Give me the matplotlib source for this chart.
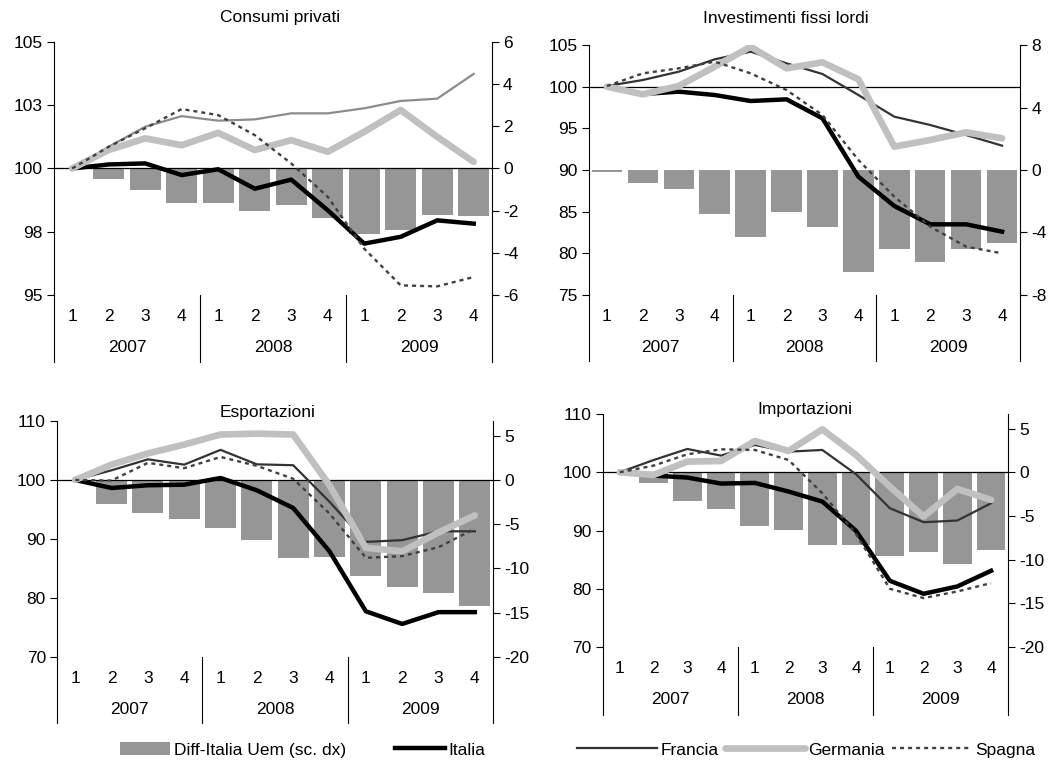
import matplotlib
matplotlib.use('Agg')
import matplotlib.pyplot as plt
from matplotlib.patches import Patch
from matplotlib.lines import Line2D

plt.rcParams['font.family'] = ['Liberation Sans', 'DejaVu Sans']
plt.rcParams['font.size'] = 12.5
plt.rcParams['axes.unicode_minus'] = False

quarters = ['1', '2', '3', '4'] * 3
years = ['2007', '2008', '2009']

# Consumi privati
cons_italia = [100, 100.16, 100.2, 99.74, 99.97, 99.2, 99.56, 98.35, 97.03, 97.3, 97.95, 97.82]
cons_francia = [100, 100.86, 101.65, 102.07, 101.89, 101.94, 102.18, 102.18, 102.38, 102.67, 102.76, 103.74]
cons_germania = [100, 100.73, 101.19, 100.92, 101.41, 100.73, 101.12, 100.66, 101.45, 102.31, 101.25, 100.26]
cons_spagna = [100, 100.86, 101.59, 102.35, 102.11, 101.32, 100.2, 98.88, 96.83, 95.38, 95.34, 95.71]
cons_diff = [-0.03, -0.51, -1.03, -1.63, -1.63, -2.01, -1.73, -2.35, -3.12, -2.93, -2.22, -2.27]

# Investimenti fissi lordi
inv_italia = [100, 99.12, 99.4, 99.0, 98.28, 98.48, 96.2, 89.2, 85.68, 83.48, 83.48, 82.6]
inv_francia = [100.08, 100.8, 101.8, 103.28, 104.2, 102.8, 101.52, 99.0, 96.4, 95.4, 94.2, 92.92]
inv_germania = [100, 99.08, 100.08, 102.4, 104.8, 102.2, 102.92, 100.88, 92.8, 93.6, 94.52, 93.8]
inv_spagna = [100.08, 101.6, 102.2, 103.0, 101.6, 99.6, 96.6, 91.2, 86.8, 83.2, 80.8, 80.0]
inv_diff = [-0.1, -0.81, -1.19, -2.79, -4.29, -2.67, -3.65, -6.5, -5.03, -5.86, -5.03, -4.65]

# Esportazioni
exp_italia = [100, 98.64, 99.1, 99.2, 100.34, 98.25, 95.25, 87.9, 77.74, 75.6, 77.6, 77.6]
exp_francia = [100, 101.64, 103.5, 102.6, 105.1, 102.65, 102.5, 96.3, 89.5, 89.8, 91.3, 91.3]
exp_germania = [100, 102.6, 104.5, 106.0, 107.7, 107.85, 107.7, 99.1, 88.5, 87.9, 91.1, 94.0]
exp_spagna = [100, 99.9, 102.9, 102.0, 103.9, 102.4, 100.2, 94.3, 86.8, 87.1, 88.6, 91.75]
exp_diff = [-0.05, -2.71, -3.73, -4.41, -5.42, -6.82, -8.81, -8.74, -10.88, -12.13, -12.77, -14.24]

# Importazioni
imp_italia = [100, 99.43, 99.09, 98.06, 98.17, 96.69, 94.97, 89.94, 81.37, 79.14, 80.4, 83.09]
imp_francia = [100, 102.1, 104.0, 102.86, 104.69, 103.54, 103.83, 99.66, 93.83, 91.43, 91.71, 94.69]
imp_germania = [100, 99.54, 101.83, 101.94, 105.37, 103.66, 107.37, 102.97, 97.54, 92.4, 97.14, 95.26]
imp_spagna = [100, 101.14, 103.09, 103.94, 103.83, 102.11, 96.4, 89.37, 80.0, 78.4, 79.54, 80.97]
imp_diff = [-0.05, -1.26, -3.28, -4.15, -6.1, -6.59, -8.38, -8.38, -9.64, -9.18, -10.48, -8.95]

x = list(range(1, 13))

fig = plt.figure(figsize=(10.58, 7.72), dpi=100)

panels = [
    dict(title='Consumi privati', rect=[0.0510, 0.6179, 0.414, 0.3277], tx=0.516, ty=1.095,
         data=(cons_italia, cons_francia, cons_germania, cons_spagna, cons_diff),
         ylim=(95, 105), yticks=[95, 97.5, 100, 102.5, 105], ylabels=['95', '98', '100', '103', '105'],
         y2lim=(-6, 6), y2ticks=[-6, -4, -2, 0, 2, 4, 6], fr_color='#8c8c8c', ext=0.265),
    dict(title='Investimenti fissi lordi', rect=[0.5567, 0.6179, 0.4074, 0.3238], tx=0.457, ty=1.108,
         data=(inv_italia, inv_francia, inv_germania, inv_spagna, inv_diff),
         ylim=(75, 105), yticks=[75, 80, 85, 90, 95, 100, 105], ylabels=None,
         y2lim=(-8, 8), y2ticks=[-8, -4, 0, 4, 8], fr_color='#333333', ext=0.265),
    dict(title='Esportazioni', rect=[0.0539, 0.1490, 0.4121, 0.3057], tx=0.484, ty=1.034,
         data=(exp_italia, exp_francia, exp_germania, exp_spagna, exp_diff),
         ylim=(70, 110), yticks=[70, 80, 90, 100, 110], ylabels=None,
         y2lim=(-20, 20 / 3), y2ticks=[-20, -15, -10, -5, 0, 5], fr_color='#333333', ext=0.28),
    dict(title='Importazioni', rect=[0.5699, 0.1619, 0.3828, 0.3018], tx=0.499, ty=1.021,
         data=(imp_italia, imp_francia, imp_germania, imp_spagna, imp_diff),
         ylim=(70, 110), yticks=[70, 80, 90, 100, 110], ylabels=None,
         y2lim=(-20, 20 / 3), y2ticks=[-20, -15, -10, -5, 0, 5], fr_color='#333333', ext=0.29),
]

for p in panels:
    ax = fig.add_axes(p['rect'])
    ax2 = ax.twinx()
    ita, fra, ger, spa, diff = p['data']

    # bars on the right scale, lines on the left one drawn on top
    ax2.bar(x, diff, width=0.85, color='#969696', zorder=1)
    ax.set_zorder(ax2.get_zorder() + 1)
    ax.patch.set_visible(False)

    ax.axhline(100, color='black', lw=0.9, zorder=1)
    ax.plot(x, ita, color='black', lw=3.2, solid_joinstyle='round', zorder=3)
    ax.plot(x, fra, color=p['fr_color'], lw=1.6, zorder=4)
    ax.plot(x, ger, color='#c0c0c0', lw=4.8, solid_capstyle='round', solid_joinstyle='round', zorder=5)
    ax.plot(x, spa, color='#404040', lw=1.7, linestyle=(0, (1.7, 1.7)), zorder=6)

    ax.set_xlim(0.5, 12.5)
    ax.set_ylim(*p['ylim'])
    ax2.set_ylim(*p['y2lim'])
    ax.set_yticks(p['yticks'])
    if p['ylabels']:
        ax.set_yticklabels(p['ylabels'])
    ax2.set_yticks(p['y2ticks'])

    ax.set_xticks(x)
    ax.set_xticklabels(quarters)
    ax.tick_params(axis='x', length=0, pad=10)
    ax.tick_params(axis='y', length=5, width=0.8, pad=3)
    ax2.tick_params(axis='y', length=5, width=0.8, pad=3)

    for a in (ax, ax2):
        a.spines['top'].set_visible(False)
        a.spines['bottom'].set_visible(False)
        a.spines['left'].set_linewidth(0.8)
        a.spines['right'].set_linewidth(0.8)
    ax.spines['right'].set_visible(False)
    ax2.spines['left'].set_visible(False)

    # multi-level category axis: separators and year labels
    trans = ax.get_xaxis_transform()
    for xs in [0.5, 4.5, 8.5, 12.5]:
        ax.plot([xs, xs], [0, -p['ext']], transform=trans, color='black', lw=0.8, clip_on=False)
    for i, yr in enumerate(years):
        ax.annotate(yr, xy=(2.5 + 4 * i, 0), xycoords=trans, xytext=(0, -38),
                    textcoords='offset points', ha='center', va='center')

    ax.text(p['tx'], p['ty'], p['title'], transform=ax.transAxes, ha='center', va='center')

bar_h = Patch(facecolor='#969696', edgecolor='none')
ita_h = Line2D([], [], color='black', lw=3.2)
fra_h = Line2D([], [], color='#333333', lw=1.6)
ger_h = Line2D([], [], color='#c0c0c0', lw=4.8, solid_capstyle='round')
spa_h = Line2D([], [], color='#404040', lw=1.7, linestyle=(0, (1.7, 1.7)))

fig.legend([bar_h, ita_h], ['Diff-Italia Uem (sc. dx)', 'Italia'], loc='center',
           bbox_to_anchor=(0.286, 0.0285), ncol=2, frameon=False, handlelength=2.9,
           handletextpad=0.2, columnspacing=2.8, borderaxespad=0)
fig.legend([fra_h, ger_h, spa_h], ['Francia', 'Germania', 'Spagna'], loc='center',
           bbox_to_anchor=(0.762, 0.0285), ncol=3, frameon=False, handlelength=4.6,
           handletextpad=0.2, columnspacing=0.4, borderaxespad=0)

fig.savefig('out.png', dpi=100)
